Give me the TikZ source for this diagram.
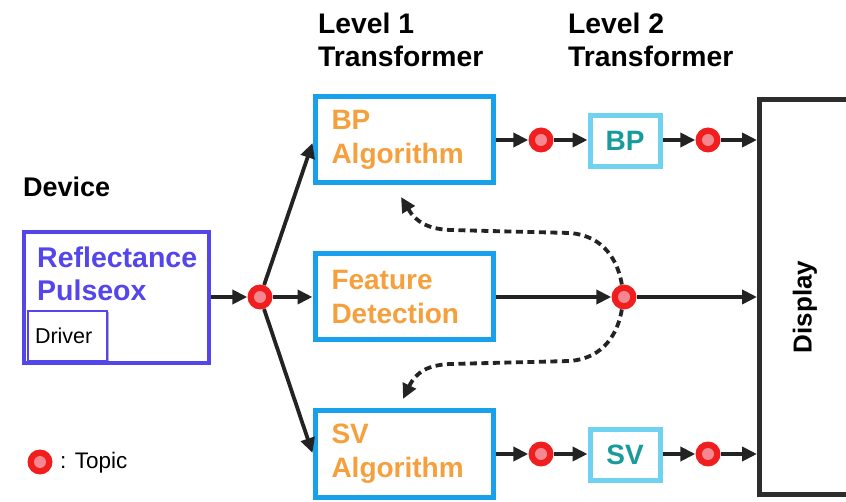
\documentclass[tikz,border=0pt]{standalone}
\usepackage{fontspec}
\setmainfont{Liberation Sans}
\usetikzlibrary{arrows.meta,shadows}
\definecolor{pulsepurple}{RGB}{85,70,235}
\definecolor{lonebl}{RGB}{25,160,235}
\definecolor{ltwobl}{RGB}{110,210,240}
\definecolor{algorange}{RGB}{245,160,60}
\definecolor{tealtxt}{RGB}{25,155,155}
\definecolor{topicred}{RGB}{240,30,30}
\definecolor{topicpink}{RGB}{245,135,145}
\definecolor{arrgray}{RGB}{35,35,35}
\definecolor{dispgray}{RGB}{45,45,45}
\begin{document}
\begin{tikzpicture}[x=1pt,y=-1pt,
  bigfont/.style={font=\fontsize{28.3}{33}\selectfont\bfseries},
  shad/.style={drop shadow={shadow xshift=1.5pt,shadow yshift=-1.5pt,opacity=0.3,fill=black}},
  lonebox/.style={draw=lonebl,line width=5pt,fill=white,shad,minimum width=178pt,minimum height=86pt,
    text width=145pt,inner xsep=16.5pt,align=left,text=algorange,font=\fontsize{28}{34}\selectfont\bfseries},
  ltwobox/.style={draw=ltwobl,line width=5pt,fill=white,shad,minimum width=70pt,minimum height=51pt,
    text=tealtxt,font=\fontsize{28}{33}\selectfont\bfseries},
  topic/.style={circle,fill=topicred,minimum size=25pt,inner sep=0pt,
    path picture={\fill[topicpink] (path picture bounding box.center) circle[radius=6pt];}},
  arr/.style={draw=arrgray,line width=3.8pt,-{Triangle[length=15pt,width=14pt]}},
  dasharr/.style={arr,dash pattern=on 7pt off 4.5pt}
]
\useasboundingbox (0,0) rectangle (846,502);
\clip (0,0) rectangle (846,502);

% headings
\node[bigfont,anchor=north west,inner sep=0pt,align=left] (lev1) at (318,13) {Level 1\\Transformer};
\node[bigfont,anchor=north west,inner sep=0pt,align=left] (lev2) at (568,13) {Level 2\\Transformer};
\node[font=\fontsize{27}{33}\selectfont\bfseries,anchor=base west,inner sep=0pt] (device) at (23,197) {Device};

% device
\node[draw=pulsepurple,line width=4.5pt,fill=white,shad,minimum width=185pt,minimum height=131pt] (pulse) at (116.5,297.5) {};
\node[anchor=north west,inner sep=0pt,align=left,text=pulsepurple,font=\fontsize{28.5}{33}\selectfont\bfseries] (pulsetxt) at (37,247) {Reflectance\\Pulseox};
\node[draw=pulsepurple,line width=2.5pt,fill=white,shad,minimum width=79pt,minimum height=50pt,
  text width=65pt,inner xsep=7pt,align=left,font=\fontsize{21.5}{25}\selectfont] (driver) at (67.5,336) {Driver};

% level 1
\node[lonebox] (bpalg) at (404,140) {BP\\Algorithm};
\node[lonebox] (fd) at (404,297) {Feature\\Detection};
\node[lonebox] (svalg) at (404,454) {SV\\Algorithm};

% level 2
\node[ltwobox] (bp2) at (625,141) {BP};
\node[ltwobox] (sv2) at (625,455) {SV};

% display
\node[draw=dispgray,line width=5pt,fill=white,shad,minimum width=200pt,minimum height=395pt] (disp) at (859.5,297) {};
\node[rotate=90,font=\fontsize{26}{30}\selectfont\bfseries] (disptxt) at (805,307) {Display};

% topics
\node[topic] (c0) at (260,297) {};
\node[topic] (c1a) at (541,140) {};
\node[topic] (c1b) at (708,140) {};
\node[topic] (cf) at (624,297) {};
\node[topic] (c3a) at (541,454) {};
\node[topic] (c3b) at (708,454) {};

% legend
\node[topic] (leg) at (40,462) {};
\node[anchor=west,inner sep=0pt,font=\fontsize{22.5}{26}\selectfont] (legtxt) at (60,463) {: Topic};

% connectors
\draw[arr] (pulse.east |- c0) -- (c0);
\draw[arr] (c0) -- ([yshift=-3pt]bpalg.west);
\draw[arr] (c0) -- (fd.west);
\draw[arr] (c0) -- ([yshift=1pt]svalg.west);

\draw[arr] (bpalg.east |- c1a) -- (c1a);
\draw[arr] (c1a) -- (bp2.west |- c1a);
\draw[arr] (bp2.east |- c1b) -- (c1b);
\draw[arr] (c1b) -- (c1b -| disp.west);

\draw[arr] (fd.east) -- (cf);
\draw[arr] (cf) -- (cf -| disp.west);

\draw[arr] (svalg.east |- c3a) -- (c3a);
\draw[arr] (c3a) -- (sv2.west |- c3a);
\draw[arr] (sv2.east |- c3b) -- (c3b);
\draw[arr] (c3b) -- (c3b -| disp.west);

\coordinate (tipA) at (401,197);
\coordinate (tipB) at (403,399);
\draw[dasharr] (cf) .. controls (618,262) and (605,236) .. (570,233) -- (450,230) .. controls (428,229) and (416,222) .. (tipA);
\draw[dasharr] (cf) .. controls (618,332) and (605,358) .. (570,361) -- (450,364) .. controls (428,365) and (416,372) .. (tipB);
\end{tikzpicture}
\end{document}
